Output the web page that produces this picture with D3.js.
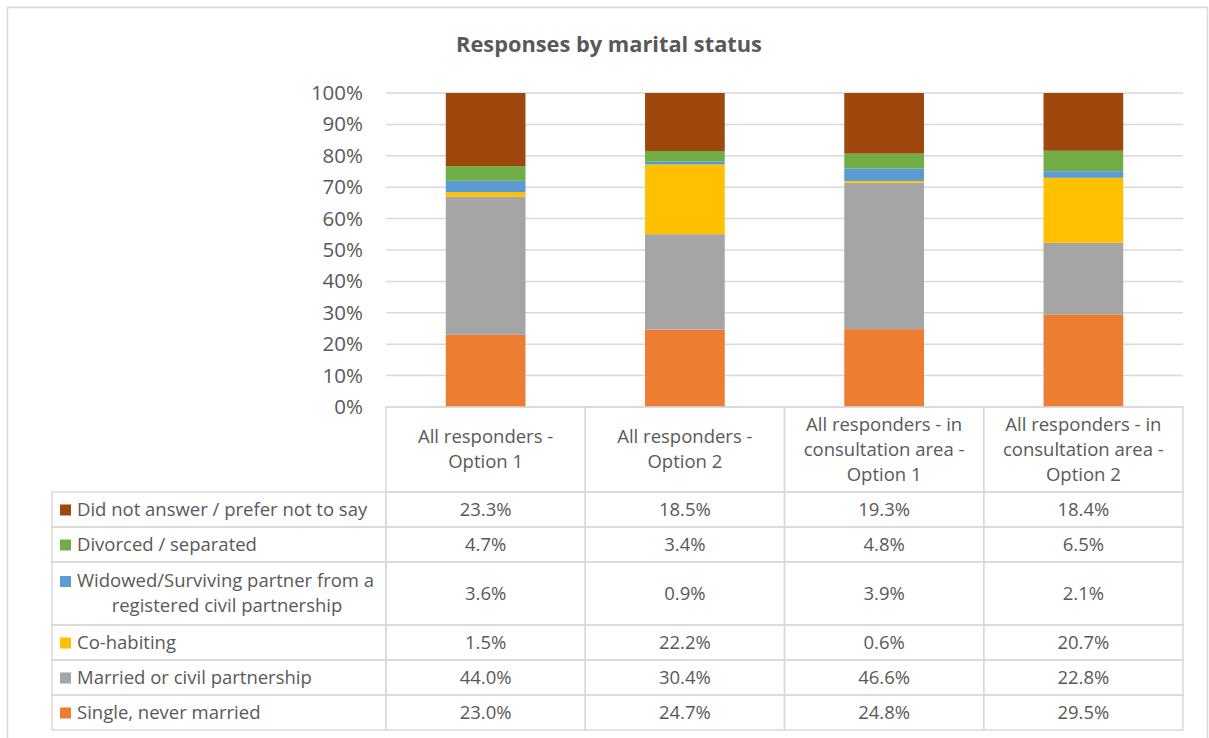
<!DOCTYPE html>
<html>
<head>
<meta charset="utf-8">
<script src="https://cdn.jsdelivr.net/npm/d3@7"></script>
<style>
  body { margin: 0; background: #fff; }
  text { font-family: "Open Sans", "Noto Sans", sans-serif; fill: #595959; }
</style>
</head>
<body>
<svg id="chart" width="1209" height="738"></svg>
<script>
// categories (columns), each header split into the lines shown in the table
var categories = ["All responders - Option 1", "All responders - Option 2",
  "All responders - in consultation area - Option 1", "All responders - in consultation area - Option 2"];
var headerLines = [["All responders -", "Option 1"], ["All responders -", "Option 2"],
  ["All responders - in", "consultation area -", "Option 1"], ["All responders - in", "consultation area -", "Option 2"]];

// series, bottom of stack first
var seriesNames = ["Single, never married", "Married or civil partnership", "Co-habiting",
  "Widowed/Surviving partner from a registered civil partnership", "Divorced / separated",
  "Did not answer / prefer not to say"];
var seriesColors = ["#ED7D31", "#A5A5A5", "#FFC000", "#5B9BD5", "#70AD47", "#9E480E"];

var single   = [23.0, 24.7, 24.8, 29.5];
var married  = [44.0, 30.4, 46.6, 22.8];
var cohabit  = [1.5, 22.2, 0.6, 20.7];
var widowed  = [3.6, 0.9, 3.9, 2.1];
var divorced = [4.7, 3.4, 4.8, 6.5];
var noAnswer = [23.3, 18.5, 19.3, 18.4];
var seriesValues = [single, married, cohabit, widowed, divorced, noAnswer];

var yTicks = [0, 0.1, 0.2, 0.3, 0.4, 0.5, 0.6, 0.7, 0.8, 0.9, 1.0];

var svg = d3.select("#chart");
var plotLeft = 386, plotRight = 1183, plotTop = 93, plotBottom = 407;
var gridColor = "#d9d9d9";
var fs = "18.5px";

// outer chart border
svg.append("rect")
    .attr("x", 7.5).attr("y", 7.5).attr("width", 1200).attr("height", 740)
    .attr("fill", "none").attr("stroke", gridColor).attr("stroke-width", 1.5);

// title
svg.append("text")
    .attr("x", 609).attr("y", 52)
    .attr("text-anchor", "middle")
    .style("font-size", "21.8px").style("font-weight", "bold")
    .text("Responses by marital status");

var x = d3.scaleBand().domain(categories).range([plotLeft, plotRight]);
var y = d3.scaleLinear().domain([0, 1]).range([plotBottom, plotTop]);

// gridlines
svg.append("g").selectAll("line")
    .data(yTicks)
    .enter().append("line")
    .attr("x1", plotLeft).attr("x2", plotRight)
    .attr("y1", function(d) { return y(d); }).attr("y2", function(d) { return y(d); })
    .attr("stroke", gridColor).attr("stroke-width", 1.5);

// y axis labels
var yAxis = d3.axisLeft(y).tickValues(yTicks).tickFormat(d3.format(".0%")).tickSize(0).tickPadding(23);
var yg = svg.append("g").attr("transform", "translate(" + plotLeft + ",0)").call(yAxis);
yg.select(".domain").remove();
yg.selectAll("text").style("font-size", "20.5px").style("fill", "#595959")
    .style("font-family", "'Open Sans', sans-serif");

// stacked bars (100% stacked: normalise each column)
var rows = categories.map(function(c, i) {
    var r = { cat: c };
    var total = d3.sum(seriesValues, function(s) { return s[i]; });
    seriesNames.forEach(function(n, k) { r[n] = seriesValues[k][i] / total; });
    return r;
});
var stack = d3.stack().keys(seriesNames)(rows);
var barW = x.bandwidth() * 0.4;

svg.append("g").selectAll("g")
    .data(stack)
    .enter().append("g")
    .attr("fill", function(d, i) { return seriesColors[i]; })
    .selectAll("rect")
    .data(function(d) { return d; })
    .enter().append("rect")
    .attr("x", function(d) { return x(d.data.cat) + (x.bandwidth() - barW) / 2; })
    .attr("width", barW)
    .attr("y", function(d) { return y(d[1]); })
    .attr("height", function(d) { return y(d[0]) - y(d[1]); });

// data table
var headerBottom = 492;
var rowHeights = [35, 35, 63, 35, 35, 35]; // top row first
var tableLeft = 52;
var tableRows = seriesNames.slice().reverse();
var tableVals = seriesValues.slice().reverse();
var tableCols = seriesColors.slice().reverse();

var rowTops = [];
var acc = headerBottom;
rowHeights.forEach(function(h) { rowTops.push(acc); acc += h; });

var tbl = svg.append("g");
// header column borders
categories.forEach(function(c) {
    tbl.append("rect")
        .attr("x", x(c)).attr("y", plotBottom)
        .attr("width", x.bandwidth()).attr("height", headerBottom - plotBottom)
        .attr("fill", "none").attr("stroke", gridColor).attr("stroke-width", 1.5);
});
// header text
categories.forEach(function(c, i) {
    var lines = headerLines[i];
    var mid = (plotBottom + headerBottom) / 2;
    var lh = 25;
    lines.forEach(function(l, j) {
        tbl.append("text")
            .attr("x", x(c) + x.bandwidth() / 2)
            .attr("y", mid + (j - (lines.length - 1) / 2) * lh + 6)
            .attr("text-anchor", "middle")
            .style("font-size", fs)
            .text(l);
    });
});
// body cells
tableRows.forEach(function(name, r) {
    var ty = rowTops[r], h = rowHeights[r];
    tbl.append("rect")
        .attr("x", tableLeft).attr("y", ty).attr("width", plotLeft - tableLeft).attr("height", h)
        .attr("fill", "none").attr("stroke", gridColor).attr("stroke-width", 1.5);
    categories.forEach(function(c, i) {
        tbl.append("rect")
            .attr("x", x(c)).attr("y", ty).attr("width", x.bandwidth()).attr("height", h)
            .attr("fill", "none").attr("stroke", gridColor).attr("stroke-width", 1.5);
        tbl.append("text")
            .attr("x", x(c) + x.bandwidth() / 2).attr("y", ty + h / 2 + 6)
            .attr("text-anchor", "middle")
            .style("font-size", fs)
            .text(d3.format(".1f")(tableVals[r][i]) + "%");
    });
    // legend key + label
    var cy = ty + h / 2;
    var twoLine = name.indexOf("Widowed") === 0;
    var keyY = twoLine ? cy - 12.5 : cy;
    tbl.append("rect")
        .attr("x", 60).attr("y", keyY - 5).attr("width", 11).attr("height", 11)
        .attr("fill", tableCols[r]);
    if (twoLine) {
        tbl.append("text").attr("x", 77).attr("y", keyY + 6).style("font-size", fs)
            .text("Widowed/Surviving partner from a");
        tbl.append("text").attr("x", 227).attr("y", keyY + 31).attr("text-anchor", "middle")
            .style("font-size", fs).text("registered civil partnership");
    } else {
        tbl.append("text").attr("x", 77).attr("y", keyY + 6).style("font-size", fs).text(name);
    }
});
</script>
</body>
</html>
